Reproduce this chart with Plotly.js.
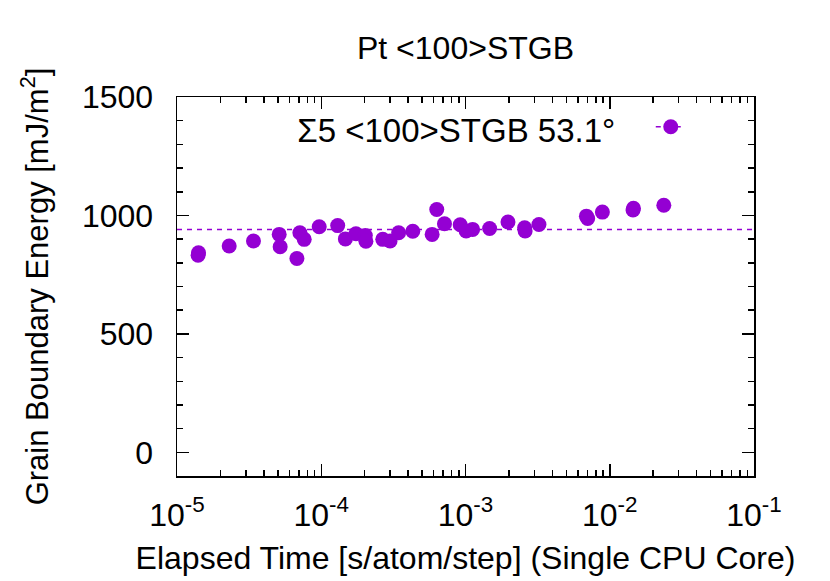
<!DOCTYPE html>
<html>
<head>
<meta charset="utf-8">
<script src="https://cdn.plot.ly/plotly-3.0.1.min.js"></script>
<style>
  html, body { margin: 0; padding: 0; background: #fff; }
  #plot { width: 830px; height: 581px; }
</style>
</head>
<body>
<div id="plot"></div>
<script>
// elapsed time per atom per step [s] and the grain boundary energy [mJ/m^2]
const elapsedTime = [
	1.40e-5, 1.41e-5, 2.30e-5, 3.39e-5, 5.11e-5, 5.19e-5, 6.78e-5, 7.11e-5,
	7.62e-5, 9.68e-5, 1.30e-4, 1.47e-4, 1.74e-4, 2.02e-4, 2.04e-4, 2.67e-4,
	3.00e-4, 3.44e-4, 4.31e-4, 5.87e-4, 6.32e-4, 7.15e-4, 9.19e-4, 1.01e-3,
	1.12e-3, 1.47e-3, 1.97e-3, 2.57e-3, 2.59e-3, 3.23e-3, 6.89e-3, 7.03e-3,
	8.89e-3, 1.45e-2, 1.46e-2, 2.37e-2
];
const gbEnergy = [
	832, 842, 871, 892, 920, 868, 818, 927,
	899, 952, 957, 901, 923, 915, 891, 899,
	892, 927, 933, 920, 1025, 965, 961, 934,
	941, 945, 972, 948, 934, 962, 997, 987,
	1014, 1023, 1030, 1043
];
// horizontal reference (average) energy
const refEnergy = 941;
const refSpan = [1e-5, 1e-1];

const xTickVals = [1e-5, 1e-4, 1e-3, 1e-2, 1e-1];
const xTickText = ['10<sup>-5</sup>', '10<sup>-4</sup>', '10<sup>-3</sup>', '10<sup>-2</sup>', '10<sup>-1</sup>'];
const yTickVals = [0, 500, 1000, 1500];

const violet = '#9400d3';
const font = { family: 'Liberation Sans, Arial, sans-serif', size: 32, color: '#000' };

const traces = [
	{
		x: refSpan,
		y: refSpan.map(() => refEnergy),
		mode: 'lines',
		line: { color: violet, width: 1.5, dash: '5px,5px' },
		showlegend: false,
		hoverinfo: 'skip'
	},
	{
		x: elapsedTime,
		y: gbEnergy,
		mode: 'markers',
		marker: { color: violet, size: 15 },
		showlegend: false
	},
	{
		// legend entry only
		x: [null],
		y: [null],
		mode: 'lines+markers',
		name: '',
		line: { color: violet, width: 1.5, dash: '5px,5px' },
		marker: { color: violet, size: 15 }
	}
];

const axisCommon = {
	showgrid: false,
	zeroline: false,
	showline: true,
	linecolor: '#000',
	linewidth: 1.5,
	mirror: 'allticks',
	ticks: 'inside',
	ticklen: 12,
	tickwidth: 1.5,
	tickcolor: '#000',
	tickfont: font
};

const layout = {
	width: 830,
	height: 581,
	margin: { l: 177, r: 76, t: 97, b: 105 },
	paper_bgcolor: '#fff',
	plot_bgcolor: '#fff',
	font: font,
	title: {
		text: 'Pt &lt;100&gt;STGB',
		font: { ...font, size: 32 },
		x: 0.5, xref: 'paper', xanchor: 'center',
		y: 1 - 48 / 581, yref: 'container', yanchor: 'middle'
	},
	xaxis: {
		...axisCommon,
		type: 'log',
		range: [-5, -1],
		tickvals: xTickVals,
		ticktext: xTickText,
		ticklabelstandoff: 10,
		minor: { ticks: 'inside', ticklen: 6, tickwidth: 1.5, tickcolor: '#000', dtick: 'D1', showgrid: false },
		title: { text: 'Elapsed Time [s/atom/step] (Single CPU Core)', font: { ...font, size: 32 }, standoff: 14 }
	},
	yaxis: {
		...axisCommon,
		range: [-100, 1500],
		tickvals: yTickVals,
		ticklabelstandoff: 16,
		minor: { ticks: 'inside', ticklen: 6, tickwidth: 1.5, tickcolor: '#000', dtick: 100, showgrid: false },
		title: { text: 'Grain Boundary Energy [mJ/m<sup>2</sup>]', font: { ...font, size: 31 }, standoff: 24 }
	},
	legend: {
		orientation: 'h',
		x: 0.9, xanchor: 'right',
		y: 0.921, yanchor: 'middle',
		bgcolor: 'rgba(0,0,0,0)',
		font: font,
		title: { text: 'Σ5 &lt;100&gt;STGB 53.1°&nbsp;&nbsp;&nbsp;', side: 'left', font: { ...font, size: 33 } }
	},
	showlegend: true
};

Plotly.newPlot('plot', traces, layout, { staticPlot: true, displayModeBar: false });
</script>
</body>
</html>
